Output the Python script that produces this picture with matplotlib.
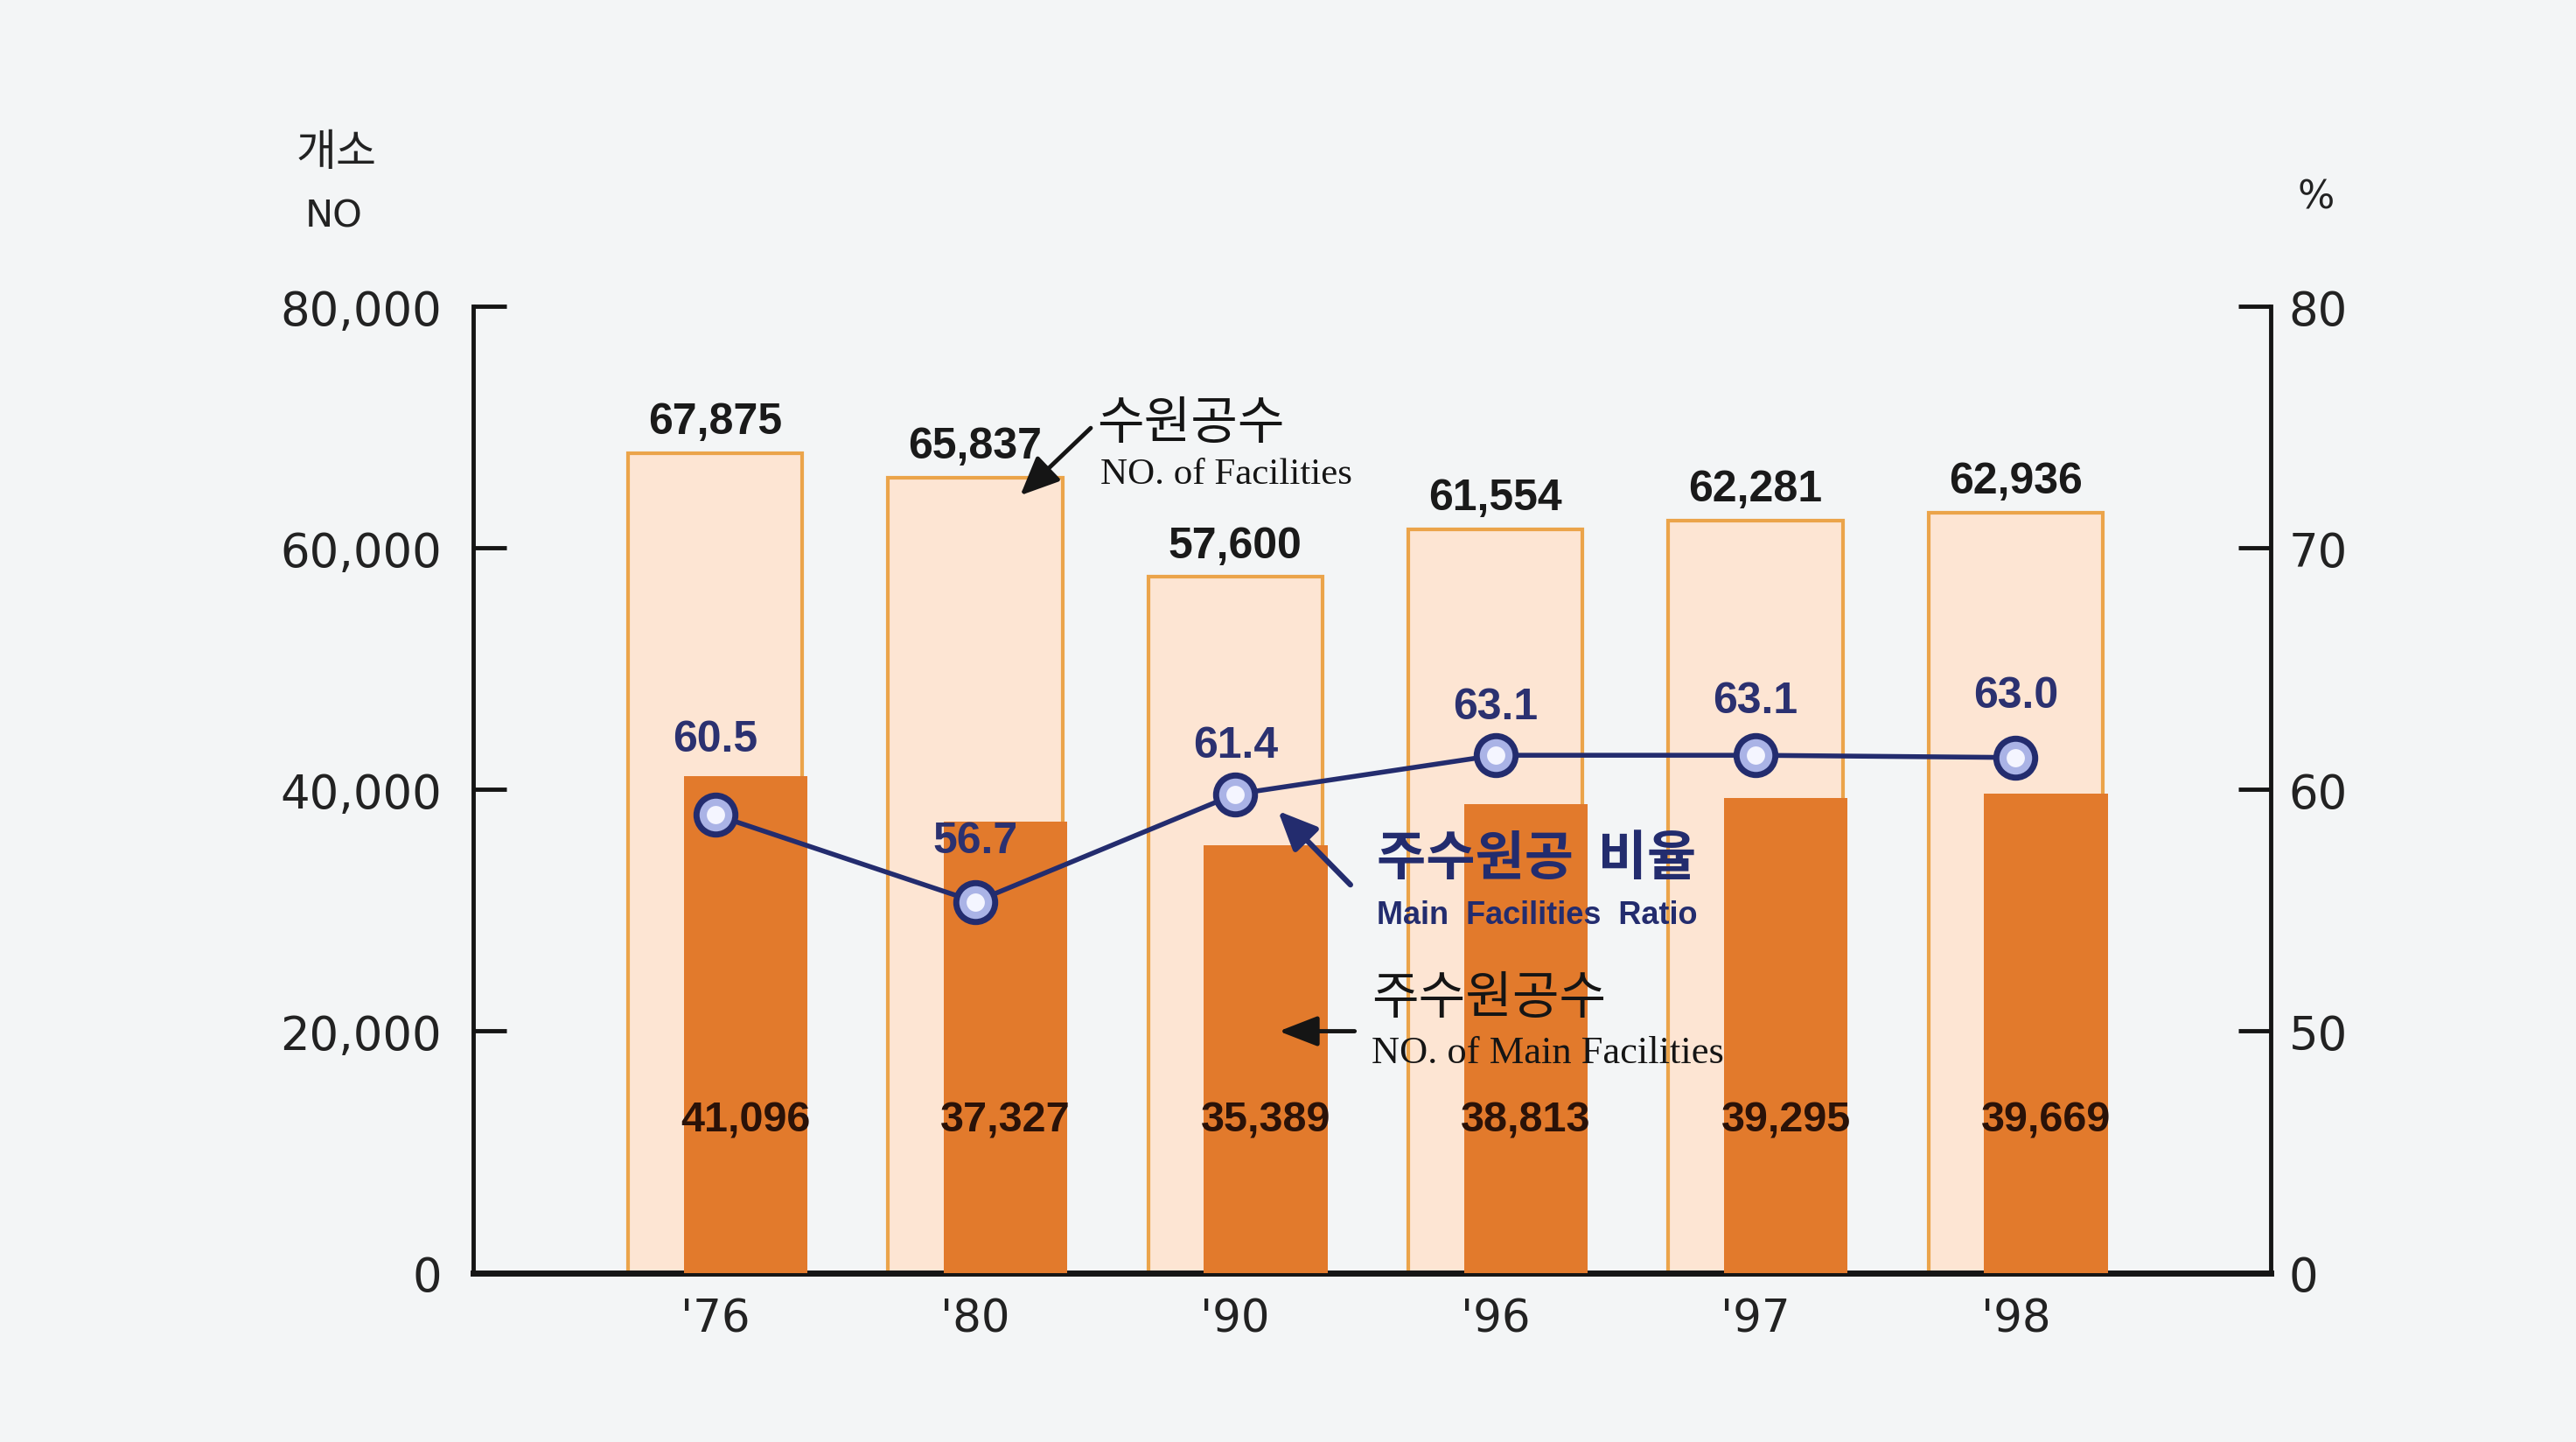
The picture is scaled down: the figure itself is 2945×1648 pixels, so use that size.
import numpy as np
import matplotlib.pyplot as plt
from matplotlib.patches import FancyArrowPatch

# data
years = ["'76", "'80", "'90", "'96", "'97", "'98"]
facilities = [67875, 65837, 57600, 61554, 62281, 62936]
main_facilities = [41096, 37327, 35389, 38813, 39295, 39669]
main_ratio = [60.5, 56.7, 61.4, 63.1, 63.1, 63.0]

left_ticks = [0, 20000, 40000, 60000, 80000]
right_ticks = [0, 50, 60, 70, 80]

# colours
bg = '#f3f5f6'
light_fill = '#fde5d3'
light_edge = '#eba44a'
dark_fill = '#e27a2c'
navy = '#232c6e'

kr = ['Noto Sans CJK KR', 'DejaVu Sans']
bold_sans = ['Liberation Sans', 'DejaVu Sans']
serif = ['Liberation Serif', 'DejaVu Serif']


# right axis is broken: 0-50 squeezed into the lowest step, 50-80 linear
def pct_fwd(v):
    v = np.asarray(v, dtype=float)
    return np.where(v <= 50, v * 0.4, 20 + (v - 50) * 2)


def pct_inv(p):
    p = np.asarray(p, dtype=float)
    return np.where(p <= 20, p / 0.4, 50 + (p - 20) / 2)


fig = plt.figure(figsize=(29.45, 16.49), dpi=100, facecolor=bg)
ax = fig.add_axes([0.1837, 0.1173, 0.8814 - 0.1837, 0.787 - 0.1173])
ax.set_facecolor(bg)

x = np.arange(len(years))
ax.bar(x, facilities, width=0.67, color=light_fill, edgecolor=light_edge,
       linewidth=3, zorder=2)
ax.bar(x + 0.117, main_facilities, width=0.475, color=dark_fill,
       linewidth=0, zorder=3)

ax.set_xlim(-0.93, 5.98)
ax.set_ylim(0, 80000)
ax.set_xticks(x)
ax.set_xticklabels(years, fontsize=37, color='#222222')
ax.tick_params(axis='x', length=0, pad=20)
ax.set_yticks(left_ticks)
ax.set_yticklabels([f'{v:,}' for v in left_ticks], fontsize=38, color='#222222')
ax.tick_params(axis='y', direction='in', length=27, width=3.5, pad=26,
               color='#151515')
for s in ['top', 'right']:
    ax.spines[s].set_visible(False)
ax.spines['left'].set_linewidth(3.5)
ax.spines['bottom'].set_linewidth(5)
ax.spines['left'].set_color('#151515')
ax.spines['bottom'].set_color('#151515')

# bar value labels
for xi, v in zip(x, facilities):
    ax.annotate(f'{v:,}', (xi, v), xytext=(0, 9), textcoords='offset points',
                ha='center', va='bottom', fontsize=36, fontweight='bold',
                family=bold_sans, color='#1a1a1a', zorder=5)
for xi, v in zip(x, main_facilities):
    ax.text(xi + 0.117, 12650, f'{v:,}', ha='center', va='center',
            fontsize=35, fontweight='bold', family=bold_sans, color='#2a1208',
            zorder=5)

# right percentage axis
ax_r = ax.twinx()
ax_r.set_yscale('function', functions=(pct_fwd, pct_inv))
ax_r.set_ylim(0, 80)
ax_r.set_yticks(right_ticks)
ax_r.set_yticklabels([str(t) for t in right_ticks], fontsize=38, color='#222222')
ax_r.minorticks_off()
ax_r.tick_params(axis='y', direction='in', length=27, width=3.5, pad=15,
                 color='#151515')
for s in ['top', 'left', 'bottom']:
    ax_r.spines[s].set_visible(False)
ax_r.spines['right'].set_linewidth(3.5)
ax_r.spines['right'].set_color('#151515')

# ratio line (own hidden scale, as drawn in the original)
ax_l = ax.twinx()
ax_l.set_ylim(40.5, 82.7)
ax_l.axis('off')
ax_l.plot(x, main_ratio, color=navy, linewidth=4, zorder=4)
ax_l.plot(x, main_ratio, 'o', markersize=32, markerfacecolor='#aab3e6',
          markeredgecolor=navy, markeredgewidth=5, zorder=5)
ax_l.plot(x, main_ratio, 'o', markersize=15, markerfacecolor='#f4f5ff',
          markeredgewidth=0, zorder=6)
label_dy = [62, 50, 40, 40, 45, 51]
for xi, v, dy in zip(x, main_ratio, label_dy):
    ax_l.annotate(f'{v:.1f}', (xi, v), xytext=(0, dy), textcoords='offset points',
                  ha='center', va='center', fontsize=36, fontweight='bold',
                  family=bold_sans, color='#2b3170', zorder=7)

# axis unit labels
fig.text(0.1307, 0.894, '개소', ha='center', va='center', fontsize=36,
         family=kr, color='#222222')
fig.text(0.1295, 0.8497, 'NO', ha='center', va='center', fontsize=31,
         color='#222222')
fig.text(0.899, 0.863, '%', ha='center', va='center', fontsize=32,
         color='#222222')

# callouts
fig.text(0.426, 0.706, '수원공수', ha='left', va='center', fontsize=42,
         family=kr, color='#151515')
fig.text(0.4273, 0.671, 'NO. of Facilities', ha='left', va='center',
         fontsize=31, family=serif, color='#151515')
fig.add_artist(FancyArrowPatch(
    (0.4241, 0.7039), (0.3954, 0.6549), transform=fig.transFigure,
    mutation_scale=30, arrowstyle='-|>,head_length=0.9,head_width=0.4',
    color='#151515', lw=3.5))

fig.text(0.5344, 0.4043, '주수원공  비율', ha='left', va='center', fontsize=44,
         fontweight='bold', family=kr, color=navy)
fig.text(0.5344, 0.3656, 'Main  Facilities  Ratio', ha='left', va='center',
         fontsize=26, fontweight='bold', family=bold_sans, color=navy)
fig.add_artist(FancyArrowPatch(
    (0.5249, 0.385), (0.4955, 0.4385), transform=fig.transFigure,
    mutation_scale=30, arrowstyle='-|>,head_length=0.9,head_width=0.4',
    color=navy, lw=4.5))

fig.text(0.5325, 0.3075, '주수원공수', ha='left', va='center', fontsize=42,
         family=kr, color='#151515')
fig.text(0.5325, 0.27, 'NO. of Main Facilities', ha='left', va='center',
         fontsize=32, family=serif, color='#151515')
fig.add_artist(FancyArrowPatch(
    (0.5268, 0.2847), (0.4955, 0.2847), transform=fig.transFigure,
    mutation_scale=30, arrowstyle='-|>,head_length=0.9,head_width=0.35',
    color='#151515', lw=3.5))

fig.savefig('out.png', dpi=100, facecolor=bg)
